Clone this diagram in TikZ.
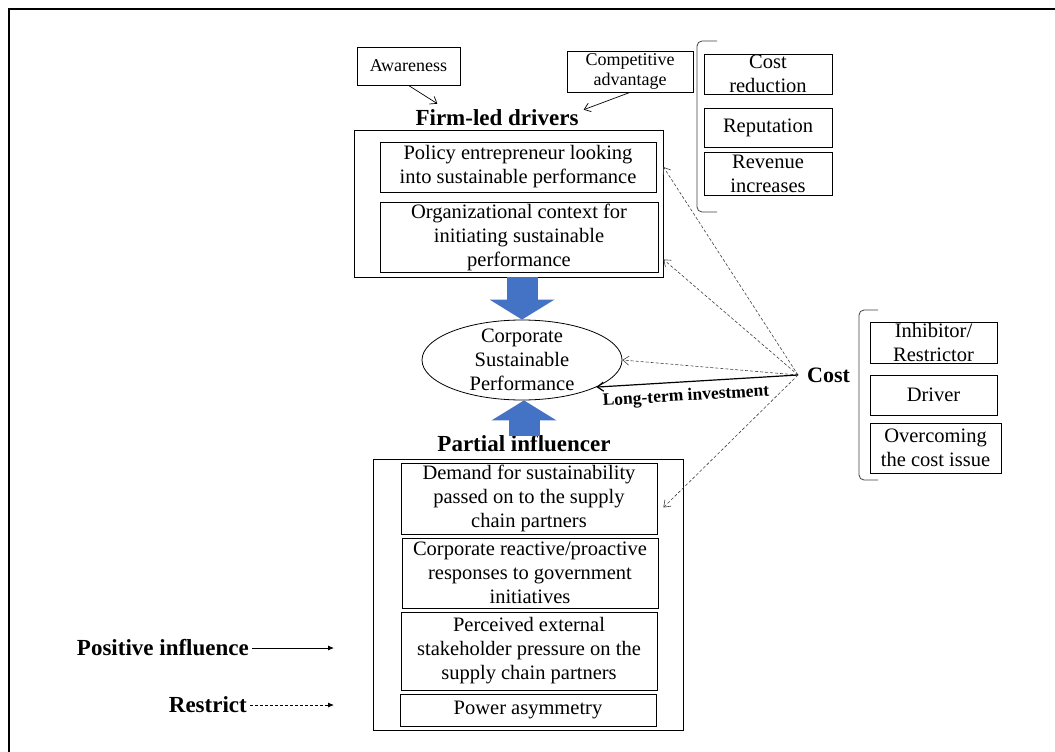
\documentclass[tikz,border=0pt]{standalone}
\usepackage{fontspec}
\setmainfont{Liberation Serif}
\usetikzlibrary{arrows.meta,positioning,calc,shapes.geometric}
\definecolor{arrowblue}{RGB}{68,114,196}

\begin{document}
\begin{tikzpicture}[
    x=1pt, y=-1pt,
    block/.style={rectangle, draw, line width=0.8pt, inner sep=0pt, align=center, font=\fontsize{20.5}{24}\selectfont},
    note/.style={rectangle, draw, line width=0.8pt, inner sep=0pt, align=center, font=\fontsize{18}{20}\selectfont},
    frame/.style={rectangle, draw, line width=0.9pt, inner sep=0pt},
    heading/.style={inner sep=0pt, font=\bfseries\fontsize{23}{26}\selectfont},
    bigarrow/.style={draw=arrowblue, line width=31pt, -{Triangle[length=20pt, width=64pt]}},
    dasharrow/.style={-{Straight Barb[length=6pt, width=9pt]}, densely dashed, line width=0.6pt, draw=black!75},
    solidarrow/.style={-{Straight Barb[length=6pt, width=9pt]}, line width=1.2pt},
    thinarrow/.style={-{Straight Barb[length=6pt, width=9pt]}, line width=0.7pt},
    legarrow/.style={-{Latex[length=6pt, width=5pt]}, line width=0.8pt, shorten <=3pt}
]
\useasboundingbox (0,0) rectangle (1055,752);
\draw[line width=2pt] (9,760) -- (9,9) -- (1060,9);

\node[note, minimum width=103pt, minimum height=38pt] (aware) at (408.5,66) {Awareness};
\node[note, minimum width=126pt, minimum height=41pt] (compet) at (630,71.5) {Competitive\\advantage};
\node[heading] (firmtitle) at (497,118) {Firm-led drivers};
\node[frame, minimum width=309pt, minimum height=147pt] (firm) at (508.5,203.5) {};
\node[block, minimum width=276pt, minimum height=50pt] (policy) at (518,167) {Policy entrepreneur looking\\into sustainable performance};
\node[block, minimum width=278pt, minimum height=70pt] (orgctx) at (519,237) {Organizational context for\\initiating sustainable\\performance};

\node[block, minimum width=128pt, minimum height=40pt] (costred) at (768,74) {Cost\\reduction};
\node[block, minimum width=128pt, minimum height=39pt] (reput) at (768,127.5) {Reputation};
\node[block, minimum width=128pt, minimum height=43pt] (revenue) at (768,173.5) {Revenue\\increases};
\draw[line width=0.8pt, draw=black!75, rounded corners=5pt] (717,41) -- (697,41) -- (697,212) -- (717,212);

\node[ellipse, draw, line width=0.8pt, minimum width=200pt, minimum height=80pt, inner xsep=0pt, inner ysep=-5pt, align=center, font=\fontsize{20.5}{24}\selectfont] (csp) at (522,360) {Corporate\\Sustainable\\Performance};

\node[heading, font=\bfseries\fontsize{22}{24}\selectfont, inner xsep=9pt, anchor=west] (cost) at (798,375) {Cost};
\node[block, minimum width=127pt, minimum height=41pt] (inhib) at (933.5,342.5) {Inhibitor/\\Restrictor};
\node[block, minimum width=127pt, minimum height=40pt] (driver) at (933.5,395) {Driver};
\node[block, minimum width=131pt, minimum height=50pt] (overcome) at (935.5,448) {Overcoming\\the cost issue};
\draw[line width=0.8pt, draw=black!75, rounded corners=5pt] (878,310) -- (859,310) -- (859,480) -- (878,480);

\node[heading] (ptitle) at (524,444) {Partial influencer};
\node[frame, minimum width=310pt, minimum height=271pt] (partial) at (528,594.5) {};
\node[block, minimum width=256pt, minimum height=71pt] (demand) at (529,498.5) {Demand for sustainability\\passed on to the supply\\chain partners};
\node[block, minimum width=256pt, minimum height=70pt] (react) at (530,573) {Corporate reactive/proactive\\responses to government\\initiatives};
\node[block, minimum width=256pt, minimum height=78pt] (perceive) at (529,651) {Perceived external\\stakeholder pressure on the\\supply chain partners};
\node[block, minimum width=256pt, minimum height=32pt] (power) at (528,710) {Power asymmetry};

\node[heading, anchor=east] (posinf) at (249,648) {Positive influence};
\node[heading, anchor=east] (restrict) at (247,705) {Restrict};
\coordinate (posend) at (334,648);
\coordinate (resend) at (334,705);

\draw[bigarrow] (firm.south -| csp) -- (csp);
\draw[bigarrow] (ptitle.north) -- (ptitle.north |- csp.south);

\draw[thinarrow] (aware.south) -- ($(firmtitle.north west)+(22,-6)$);
\draw[thinarrow] (compet.south) -- ($(firmtitle.north east)+(5,0)$);

\draw[dasharrow] (cost.west) -- (firm.east |- policy);
\draw[dasharrow] (cost.west) -- ($(firm.south east)+(0,-18)$);
\draw[dasharrow] (cost.west) -- (csp.east);
\draw[solidarrow] (cost.west) -- node[pos=0.56, below=3pt, sloped, font=\bfseries\fontsize{17.5}{20}\selectfont] {Long-term investment} (csp.-20);
\draw[dasharrow] (cost.west) -- ($(demand.east)+(6,9)$);

\draw[legarrow] (posinf) -- (posend);
\draw[legarrow, dash pattern=on 3pt off 2pt] (restrict) -- (resend);
\end{tikzpicture}
\end{document}
